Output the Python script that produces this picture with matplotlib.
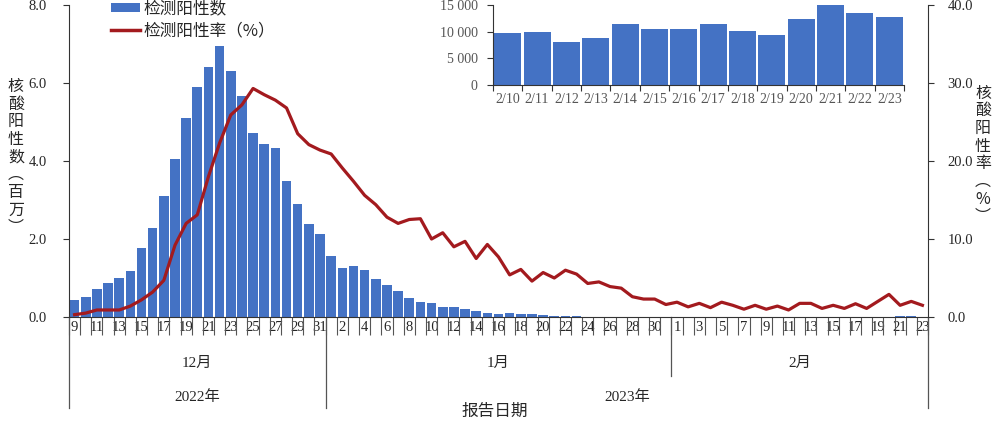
import matplotlib
matplotlib.use("Agg")
import matplotlib.pyplot as plt
import matplotlib.transforms as mtransforms
from matplotlib.patches import Patch
from matplotlib.lines import Line2D
import numpy as np

# ---------------- data ----------------
day_labels = list(range(9, 32)) + list(range(1, 32)) + list(range(1, 24))
month_names = ["12月", "1月", "2月"]
month_lengths = [23, 31, 23]
year_names = ["2022年", "2023年"]
year_lengths = [23, 54]

positive_millions = [
    0.43, 0.51, 0.71, 0.88, 1.00, 1.18, 1.78, 2.28, 3.09, 4.05, 5.09, 5.89,
    6.41, 6.94, 6.31, 5.66, 4.73, 4.44, 4.34, 3.50, 2.90, 2.38, 2.14,
    1.57, 1.26, 1.32, 1.21, 0.97, 0.81, 0.67, 0.49, 0.38, 0.37, 0.26, 0.25,
    0.20, 0.15, 0.10, 0.085, 0.10, 0.085, 0.07, 0.06, 0.035, 0.02, 0.015,
    0.012, 0.012, 0.010, 0.010, 0.010, 0.010, 0.010, 0.010,
    0.010, 0.010, 0.010, 0.010, 0.010, 0.010, 0.010, 0.010, 0.009,
    0.0097, 0.0100, 0.0080, 0.0088, 0.0115, 0.0105, 0.0106, 0.0114, 0.0102,
    0.0093, 0.0124, 0.0151, 0.0135, 0.0127,
]

positive_rate = [
    0.3, 0.5, 0.9, 0.9, 0.9, 1.4, 2.2, 3.2, 4.7, 9.2, 12.0, 13.1, 18.0, 22.3,
    25.9, 27.2, 29.3, 28.5, 27.8, 26.8, 23.5, 22.1, 21.4,
    20.9, 19.1, 17.4, 15.6, 14.4, 12.8, 12.0, 12.5, 12.6, 10.0, 10.8, 9.0,
    9.7, 7.5, 9.3, 7.7, 5.4, 6.1, 4.6, 5.7, 5.0, 6.0, 5.5, 4.3, 4.5, 3.9,
    3.7, 2.6, 2.3, 2.3, 1.6,
    1.9, 1.3, 1.75, 1.2, 1.9, 1.5, 1.0, 1.5, 1.0, 1.4, 0.9, 1.75, 1.75, 1.1,
    1.5, 1.1, 1.7, 1.1, 2.0, 2.9, 1.5, 2.0, 1.5,
]

inset_labels = ["2/10", "2/11", "2/12", "2/13", "2/14", "2/15", "2/16",
                "2/17", "2/18", "2/19", "2/20", "2/21", "2/22", "2/23"]
inset_values = [9750, 10000, 7990, 8800, 11510, 10510, 10570, 11380, 10190,
                9300, 12390, 15090, 13460, 12700]

left_ticks = [0, 2, 4, 6, 8]
right_ticks = [0, 10, 20, 30, 40]
inset_ticks = [0, 5000, 10000, 15000]
inset_tick_labels = ["0", "5 000", "10 000", "15 000"]

# ---------------- style ----------------
BLUE = "#4472C4"
RED = "#A31A1E"
TXT = "#262626"
SERIF = ["Liberation Serif", "Noto Sans CJK SC"]
CJK = ["Noto Sans CJK SC", "DejaVu Sans"]
plt.rcParams["font.family"] = SERIF

W, H = 1000, 424
fig = plt.figure(figsize=(W / 100, H / 100), dpi=100)

def fx(px):
    return px / W

def fy(py):
    return 1 - py / H

ax_l, ax_r, ax_t, ax_b = 69, 928, 5, 317
ax = fig.add_axes([fx(ax_l), fy(ax_b), fx(ax_r - ax_l), (ax_b - ax_t) / H])
n = len(positive_millions)
x = np.arange(n)
ax.bar(x, positive_millions, width=0.86, color=BLUE, zorder=2)
ax.set_xlim(-0.5, n - 0.5)
ax.set_ylim(0, 8)
ax.set_yticks(left_ticks)
ax.set_yticklabels([f"{v:.1f}" for v in left_ticks])
for s in ["top", "right"]:
    ax.spines[s].set_visible(False)
ax.spines["left"].set_color("#333333")
ax.spines["bottom"].set_color("#333333")
ax.tick_params(axis="y", direction="out", length=4, width=0.8, colors="#333333",
               labelcolor=TXT, labelsize=10.5, pad=12)

# x ticks: labels at every other category center, tick marks at boundaries
lab_idx = [i for i in range(n) if i % 2 == 0]
ax.set_xticks(lab_idx)
ax.set_xticklabels([str(day_labels[i]) for i in lab_idx])
ax.tick_params(axis="x", which="major", length=0, pad=3, labelsize=10.5,
               labelcolor=TXT)
ax.set_xticks(np.arange(-0.5, n, 1.0), minor=True)
ax.tick_params(axis="x", which="minor", direction="out", length=13, width=0.8,
               colors="#555555")

# month / year separators and labels
trans = mtransforms.blended_transform_factory(ax.transData, ax.transAxes)
ax_h = ax_b - ax_t
def ay(py):
    return -(py - ax_b) / ax_h

bounds = np.concatenate([[0], np.cumsum(month_lengths)]) - 0.5
for b in bounds:
    y_end = ay(408)
    if 0 < b + 0.5 < n and b + 0.5 != year_lengths[0]:
        y_end = ay(376)
    ax.plot([b, b], [0, y_end], transform=trans, color="#555555", lw=0.9,
            clip_on=False)
for name, a, b in zip(month_names, bounds[:-1], bounds[1:]):
    ax.text((a + b) / 2, ay(363), name, transform=trans, ha="center",
            va="center", fontsize=11, color=TXT, family=SERIF)
ybounds = np.concatenate([[0], np.cumsum(year_lengths)]) - 0.5
for name, a, b in zip(year_names, ybounds[:-1], ybounds[1:]):
    ax.text((a + b) / 2, ay(397), name, transform=trans, ha="center",
            va="center", fontsize=11, color=TXT, family=SERIF)
fig.text(fx(495), fy(411), "报告日期", ha="center", va="center", fontsize=12,
         color=TXT, family=CJK)

# right axis: rate line
ax2 = ax.twinx()
ax2.plot(x, positive_rate, color=RED, lw=2.3, zorder=3, solid_joinstyle="round")
ax2.set_ylim(0, 40)
ax2.set_yticks(right_ticks)
ax2.set_yticklabels([f"{v:.1f}" for v in right_ticks])
for s in ["top", "left", "bottom"]:
    ax2.spines[s].set_visible(False)
ax2.spines["right"].set_color("#333333")
ax2.tick_params(axis="y", direction="out", length=4, width=0.8, colors="#333333",
                labelcolor=TXT, labelsize=10.5, pad=10)

# vertical axis titles
fig.text(fx(16), fy(157), "\n".join("核酸阳性数︵百万︶"), ha="center", va="center",
         fontsize=11.5, linespacing=1.05, color=TXT, family=CJK)
fig.text(fx(983), fy(155), "\n".join("核酸阳性率︵%︶"), ha="center", va="center",
         fontsize=11.5, linespacing=1.05, color=TXT, family=CJK)

# legend
handles = [Patch(facecolor=BLUE, edgecolor="none"),
           Line2D([0], [0], color=RED, lw=2.5)]
leg = fig.legend(handles, ["检测阳性数", "检测阳性率（%）"], loc="upper left",
                 bbox_to_anchor=(fx(111), fy(0)), frameon=False,
                 prop={"family": CJK, "size": 12}, handlelength=1.75,
                 handleheight=0.45, handletextpad=0.2, labelspacing=0.3,
                 borderpad=0, borderaxespad=0)
for t in leg.get_texts():
    t.set_color(TXT)

# inset
in_l, in_r, in_t, in_b = 493, 904, 5, 85
axi = fig.add_axes([fx(in_l), fy(in_b), fx(in_r - in_l), (in_b - in_t) / H])
xi = np.arange(len(inset_values))
axi.bar(xi, inset_values, width=0.92, color=BLUE)
axi.set_xlim(-0.5, len(xi) - 0.5)
axi.set_ylim(0, 15000)
axi.set_yticks(inset_ticks)
axi.set_yticklabels(inset_tick_labels)
axi.set_xticks(xi)
axi.set_xticklabels(inset_labels)
axi.set_xticks(np.arange(-0.5, len(xi), 1.0), minor=True)
axi.tick_params(axis="x", which="major", length=0, pad=6, labelsize=10,
                labelcolor="#555555")
axi.tick_params(axis="x", which="minor", direction="out", length=4, width=0.8,
                colors="#333333")
axi.tick_params(axis="y", direction="out", length=4, width=0.8, colors="#333333",
                labelcolor="#555555", labelsize=10, pad=7)
for s in ["top", "right"]:
    axi.spines[s].set_visible(False)
axi.spines["left"].set_color("#333333")
axi.spines["bottom"].set_color("#333333")
axi.patch.set_alpha(0)

fig.savefig("out.png", dpi=100)
